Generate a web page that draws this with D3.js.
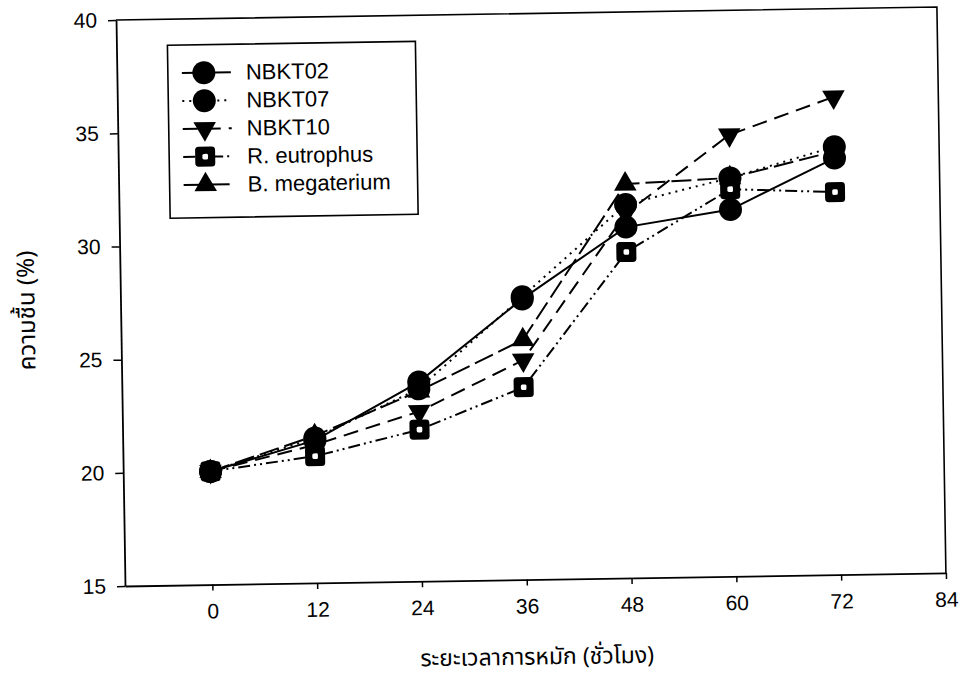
<!DOCTYPE html>
<html>
<head>
<meta charset="utf-8">
<script src="https://cdn.jsdelivr.net/npm/d3@7"></script>
<style>
  body { margin: 0; background: #fff; }
  svg text { font-family: "Liberation Sans", Arial, sans-serif; fill: #000; }
  .thai { font-family: "Noto Sans Thai", "Loma", "Garuda", "Tlwg Typo", "Noto Sans", sans-serif; }
</style>
</head>
<body>
<svg id="chart" width="961" height="685"></svg>
<script>
// moisture (%) during fermentation, hours
const hours = [0, 12, 24, 36, 48, 60, 72];
const nbkt02 = [20, 21.3, 23.8, 27.4, 30.5, 31.2, 33.4];
const nbkt07 = [20, 21.4, 23.5, 27.5, 31.5, 32.6, 33.9];
const nbkt10 = [20, 21.1, 22.5, 24.7, 31.1, 34.5, 36.1];
const eutrophus = [20, 20.6, 21.7, 23.5, 29.4, 32.1, 31.9];
const megaterium = [20, 21.5, 23.4, 25.6, 32.4, 32.6, 33.7];

const seriesNames = ["NBKT02", "NBKT07", "NBKT10", "R. eutrophus", "B. megaterium"];
const seriesValues = [nbkt02, nbkt07, nbkt10, eutrophus, megaterium];
const seriesMarks = ["circle", "circle", "down", "square", "up"];
const seriesDash = [null, "2,5", "15,8", "12,4,2,4,2,4", "20,6"];

const xTicks = [0, 12, 24, 36, 48, 60, 72, 84];
const yTicks = [15, 20, 25, 30, 35, 40];

const pLeft = 125, pTop = 20, pRight = 946, pBottom = 586;

const svg = d3.select("#chart");
// the scanned figure is slightly tilted
const g = svg.append("g").attr("transform", `rotate(-0.91, ${pLeft}, ${pBottom})`);

const x = d3.scaleLinear().domain([-10, 84]).range([pLeft, pRight]);
const y = d3.scaleLinear().domain([15, 40]).range([pBottom, pTop]);

// frame
g.append("path")
    .attr("d", `M${pLeft},${pTop}H${pRight}V${pBottom}`)
    .attr("fill", "none").attr("stroke", "#000").attr("stroke-width", 1.6);

const xAxis = g.append("g")
    .attr("transform", `translate(0,${pBottom})`)
    .call(d3.axisBottom(x).tickValues(xTicks).tickSize(6).tickPadding(13).tickSizeOuter(0));
xAxis.select(".domain").attr("stroke-width", 1.8);
xAxis.selectAll(".tick line").attr("stroke-width", 1.5);
xAxis.selectAll("text").attr("font-size", 21);

const yAxis = g.append("g")
    .attr("transform", `translate(${pLeft},0)`)
    .call(d3.axisLeft(y).tickValues(yTicks).tickSize(8).tickPadding(11).tickSizeOuter(0));
yAxis.select(".domain").attr("stroke-width", 1.8);
yAxis.selectAll(".tick line").attr("stroke-width", 1.5);
yAxis.selectAll("text").attr("font-size", 21);

// axis titles
g.append("text")
    .attr("class", "thai")
    .attr("transform", "translate(32,309) rotate(-90)")
    .attr("text-anchor", "middle")
    .attr("dominant-baseline", "central")
    .attr("font-size", 24)
    .text("ความชื้น (%)");

g.append("text")
    .attr("class", "thai")
    .attr("x", 536).attr("y", 664)
    .attr("text-anchor", "middle")
    .attr("dominant-baseline", "central")
    .attr("font-size", 23)
    .text("ระยะเวลาการหมัก (ชั่วโมง)");

function drawMark(sel, kind) {
    if (kind === "circle") {
        sel.append("circle").attr("r", 11.5).attr("fill", "#000");
    } else if (kind === "up") {
        sel.append("path").attr("d", d3.symbol(d3.symbolTriangle, 220)()).attr("fill", "#000");
    } else if (kind === "down") {
        sel.append("path").attr("d", d3.symbol(d3.symbolTriangle, 220)())
            .attr("transform", "rotate(180)").attr("fill", "#000");
    } else {
        sel.append("rect").attr("x", -10).attr("y", -10).attr("width", 20).attr("height", 20)
            .attr("rx", 3.5).attr("fill", "#000");
        sel.append("rect").attr("x", -2.8).attr("y", -2.8).attr("width", 5.6).attr("height", 5.6)
            .attr("rx", 1.5).attr("fill", "#fff");
    }
}

const line = d3.line().x((d, i) => x(hours[i])).y(d => y(d));

seriesValues.forEach((vals, s) => {
    g.append("path")
        .attr("d", line(vals))
        .attr("fill", "none")
        .attr("stroke", "#000")
        .attr("stroke-width", 2)
        .attr("stroke-dasharray", seriesDash[s]);
});

seriesValues.forEach((vals, s) => {
    g.append("g").selectAll("g")
        .data(vals)
        .join("g")
        .attr("transform", (d, i) => `translate(${x(hours[i])},${y(d)})`)
        .each(function() { drawMark(d3.select(this), seriesMarks[s]); });
});

// legend
const legend = g.append("g");
legend.append("rect")
    .attr("x", 176).attr("y", 46).attr("width", 248).attr("height", 173)
    .attr("fill", "#fff").attr("stroke", "#000").attr("stroke-width", 1.6);

seriesNames.forEach((name, s) => {
    const row = legend.append("g").attr("transform", `translate(212,${74 + s * 28})`);
    row.append("line")
        .attr("x1", -22).attr("x2", 27)
        .attr("stroke", "#000").attr("stroke-width", 2)
        .attr("stroke-dasharray", seriesDash[s]);
    drawMark(row, seriesMarks[s]);
    row.append("text")
        .attr("x", 42).attr("dominant-baseline", "central")
        .attr("font-size", 22)
        .text(name);
});
</script>
</body>
</html>
